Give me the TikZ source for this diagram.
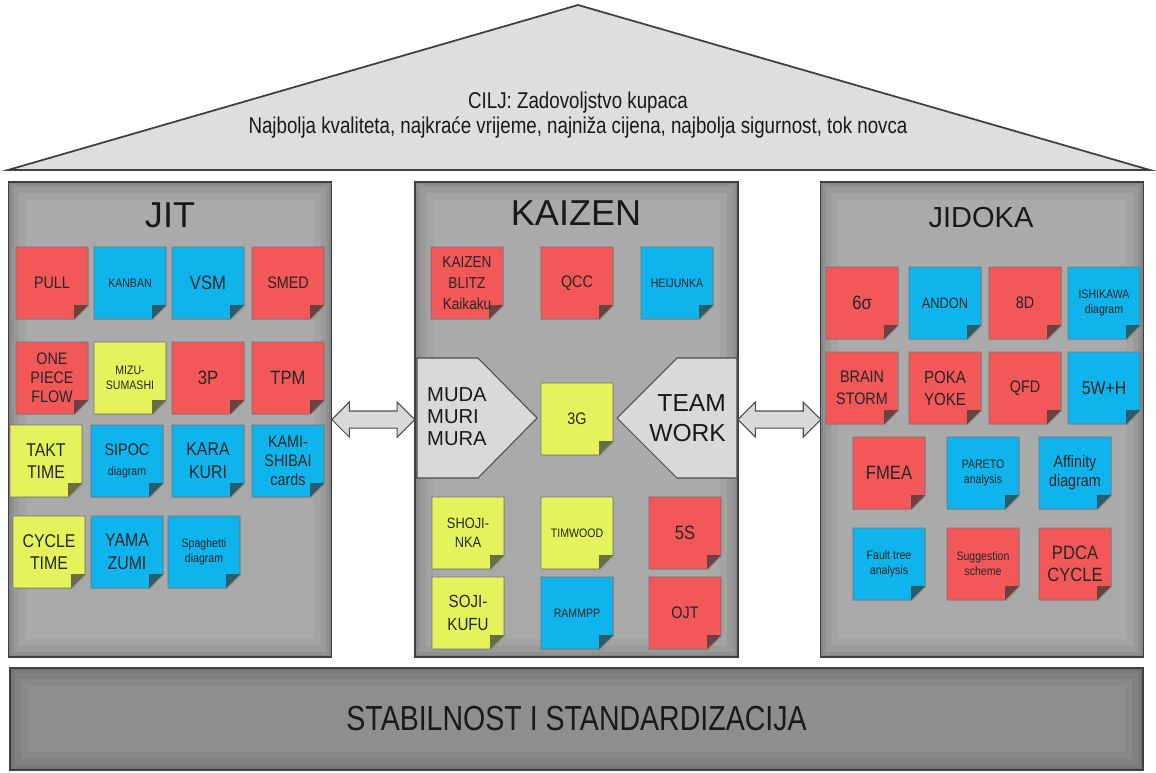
\documentclass[tikz,border=0pt]{standalone}
\usepackage{fontspec}
\setmainfont{Liberation Sans}
\newfontfamily\narrowfont[FakeStretch=0.82]{Liberation Sans}
\newfontfamily\notefont[FakeStretch=0.86]{Liberation Sans}
\usetikzlibrary{calc,shapes.arrows,shadows}

\definecolor{notered}{RGB}{242,88,88}
\definecolor{noteblue}{RGB}{16,180,236}
\definecolor{noteyellow}{RGB}{228,242,92}
\definecolor{pillargray}{RGB}{170,170,170}
\definecolor{roofgray}{RGB}{222,222,222}
\definecolor{basegray}{RGB}{142,142,142}
\definecolor{wastegray}{RGB}{217,217,217}

\tikzset{
  innerglow/.style={path picture={
      \draw[black,opacity=.04,line width=20pt] (path picture bounding box.south west) rectangle (path picture bounding box.north east);
      \draw[black,opacity=.05,line width=12pt] (path picture bounding box.south west) rectangle (path picture bounding box.north east);
      \draw[black,opacity=.06,line width=6pt] (path picture bounding box.south west) rectangle (path picture bounding box.north east);
      \draw[black,opacity=.08,line width=2.5pt] (path picture bounding box.south west) rectangle (path picture bounding box.north east);}},
  pillar/.style={draw=black!75, line width=1pt, fill=pillargray, innerglow,
    minimum width=6.46cm, minimum height=9.5cm, inner sep=0pt},
  title/.style={font=\fontsize{20.5}{24}\selectfont, text=black!90},
  notebody/.style={draw=black!55, line width=0.5pt,
    drop shadow={opacity=0.35, shadow xshift=0.7pt, shadow yshift=-0.7pt}},
  notetext/.style={align=center, inner sep=0pt, text=black!85,
    font=\notefont\fontsize{9.5}{11}\selectfont},
  smalltxt/.style={font=\notefont\fontsize{7}{8.5}\selectfont},
  bigtxt/.style={font=\notefont\fontsize{11}{13}\selectfont},
  waste/.style={draw=black!70, line width=0.6pt, fill=wastegray},
  dblarrow/.style={double arrow, draw=black!70, fill=black!15, line width=0.6pt,
    minimum height=1.66cm, minimum width=0.68cm, inner sep=0.16cm,
    double arrow head extend=0.18cm},
}

% sticky note: [options]{name}{left}{top}{colour}{text}
\newcommand{\Note}[6][]{%
  \filldraw[notebody, fill=#5] (#3,#4) -- ++(72,0) -- ++(0,58) -- ++(-14,14) -- ++(-58,0) -- cycle;
  \fill[#5!35!black!85!white] (#3+72,#4+58) -- (#3+58,#4+72) -- (#3+58,#4+58) -- cycle;
  \node[notetext,#1] (#2) at (#3+36,#4+36) {#6};}

\begin{document}
\begin{tikzpicture}[x=0.02cm, y=-0.02cm]
  \useasboundingbox (0,0) rectangle (1156,772);

  % roof
  \filldraw[draw=black!75, line width=1pt, fill=roofgray] (8,170) -- (578,5) -- (1150,170) -- cycle;
  \node[font=\narrowfont\fontsize{13}{13.8}\selectfont, align=center, text=black!90] (goal) at (578,115)
    {CILJ: Zadovoljstvo kupaca\\Najbolja kvaliteta, najkraće vrijeme, najniža cijena, najbolja sigurnost, tok novca};

  % pillars
  \node[pillar] (jit) at (170,419.5) {};
  \node[pillar] (kaizen) at (576.5,419.5) {};
  \node[pillar] (jidoka) at (982,419.5) {};
  \node[title] (jittitle) at (170,215) {JIT};
  \node[title] (kaizentitle) at (576,213) {KAIZEN};
  \node[title, font=\fontsize{16.5}{20}\selectfont] (jidokatitle) at (981,218) {JIDOKA};

  % foundation
  \node[draw=black!75, line width=1pt, fill=basegray, innerglow, minimum width=22.66cm, minimum height=2.04cm,
    font=\narrowfont\fontsize{19.8}{22}\selectfont, text=black!90] (base) at (576.5,719) {STABILNOST I STANDARDIZACIJA};

  % arrows between the pillars
  \path (jit.east) -- node[dblarrow] (arrowL) {} (kaizen.west);
  \path (kaizen.east) -- node[dblarrow] (arrowR) {} (jidoka.west);

  % JIT
  \Note{pull}{16}{247}{notered}{PULL}
  \Note[smalltxt]{kanban}{94}{247}{noteblue}{KANBAN}
  \Note[bigtxt]{vsm}{172}{247}{noteblue}{VSM}
  \Note{smed}{252}{247}{notered}{SMED}
  \Note[font=\notefont\fontsize{9.5}{10.8}\selectfont]{onepiece}{16}{342}{notered}{ONE\\PIECE\\FLOW}
  \Note[smalltxt]{mizu}{94}{342}{noteyellow}{MIZU-\\SUMASHI}
  \Note[bigtxt]{threep}{172}{342}{notered}{3P}
  \Note[bigtxt]{tpm}{252}{342}{notered}{TPM}
  \Note[font=\notefont\fontsize{10.5}{12.5}\selectfont]{takt}{10}{425}{noteyellow}{TAKT\\TIME}
  \Note{sipoc}{91}{425}{noteblue}{SIPOC\\\fontsize{7}{8.5}\selectfont diagram}
  \Note[font=\notefont\fontsize{10.5}{13}\selectfont]{karakuri}{172}{425}{noteblue}{KARA\\KURI}
  \Note[font=\notefont\fontsize{9.5}{11}\selectfont]{kamishibai}{252}{425}{noteblue}{KAMI-\\SHIBAI\\cards}
  \Note[font=\notefont\fontsize{10.5}{12.5}\selectfont]{cycletime}{13}{516}{noteyellow}{CYCLE\\TIME}
  \Note[font=\notefont\fontsize{10.5}{13}\selectfont]{yamazumi}{91}{516}{noteblue}{YAMA\\ZUMI}
  \Note[smalltxt]{spaghetti}{168}{516}{noteblue}{Spaghetti\\diagram}

  % KAIZEN
  \filldraw[waste] (417,358) -- (478,358) -- (537,418) -- (478,478) -- (417,478) -- cycle;
  \filldraw[waste] (737,358) -- (677,358) -- (617,418) -- (677,478) -- (737,478) -- cycle;
  \node[anchor=west, align=left, font=\fontsize{11.5}{12.5}\selectfont, text=black!90] (muda) at (421,417) {MUDA\\MURI\\MURA};
  \node[anchor=east, align=right, font=\fontsize{14}{17}\selectfont, text=black!90] (teamwork) at (732,418) {TEAM\\WORK};
  \Note[font=\notefont\fontsize{9}{12}\selectfont]{blitz}{431}{247}{notered}{KAIZEN\\BLITZ\\Kaikaku}
  \Note{qcc}{541}{247}{notered}{QCC}
  \Note[smalltxt]{heijunka}{641}{247}{noteblue}{HEIJUNKA}
  \Note{threeg}{541}{383}{noteyellow}{3G}
  \Note[font=\notefont\fontsize{8.5}{11}\selectfont]{shojinka}{432}{497}{noteyellow}{SHOJI-\\NKA}
  \Note[smalltxt]{timwood}{541}{497}{noteyellow}{TIMWOOD}
  \Note[bigtxt]{fives}{649}{497}{notered}{5S}
  \Note[font=\notefont\fontsize{10}{13}\selectfont]{sojikufu}{432}{577}{noteyellow}{SOJI-\\KUFU}
  \Note[smalltxt]{rammpp}{541}{577}{noteblue}{RAMMPP}
  \Note{ojt}{649}{577}{notered}{OJT}

  % JIDOKA
  \Note[bigtxt]{sixsigma}{826}{267}{notered}{6σ}
  \Note[font=\notefont\fontsize{8.5}{10}\selectfont]{andon}{909}{267}{noteblue}{ANDON}
  \Note{eightd}{989}{267}{notered}{8D}
  \Note[smalltxt]{ishikawa}{1068}{267}{noteblue}{ISHIKAWA\\diagram}
  \Note[font=\notefont\fontsize{9.5}{12.5}\selectfont]{brainstorm}{826}{352}{notered}{BRAIN\\STORM}
  \Note[font=\notefont\fontsize{10}{12.5}\selectfont]{pokayoke}{909}{352}{notered}{POKA\\YOKE}
  \Note{qfd}{989}{352}{notered}{QFD}
  \Note[font=\notefont\fontsize{10.5}{12}\selectfont]{fivew}{1068}{352}{noteblue}{5W+H}
  \Note[bigtxt]{fmea}{853}{437}{notered}{FMEA}
  \Note[smalltxt]{pareto}{947}{437}{noteblue}{PARETO\\analysis}
  \Note[font=\notefont\fontsize{9.5}{11}\selectfont]{affinity}{1039}{437}{noteblue}{Affinity\\diagram}
  \Note[smalltxt]{faulttree}{853}{528}{noteblue}{Fault tree\\analysis}
  \Note[smalltxt]{suggestion}{947}{528}{notered}{Suggestion\\scheme}
  \Note[font=\notefont\fontsize{11}{12.5}\selectfont]{pdca}{1039}{528}{notered}{PDCA\\CYCLE}
\end{tikzpicture}
\end{document}
